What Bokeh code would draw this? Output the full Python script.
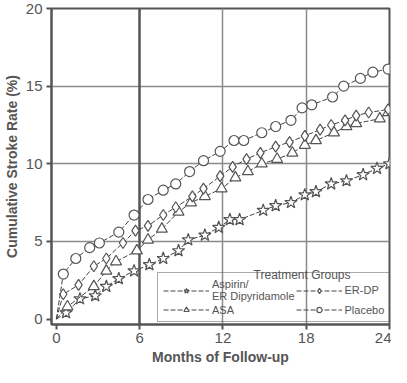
from bokeh.plotting import figure
from bokeh.models import Range1d, FixedTicker, Grid, Legend, LegendItem, Label
from bokeh.embed import file_html
from bokeh.resources import INLINE

# Data (months of follow-up vs cumulative stroke rate %)
combo_months = [0, 0.7, 1.7, 2.8, 3.6, 4.5, 5.6, 6.7, 7.7, 8.8, 9.5, 10.7, 11.7, 12.5, 13.2, 14.9, 15.8, 16.9, 17.9, 18.7, 19.8, 20.9, 22.1, 23.1, 24.0]
combo_rate = [0, 0.4, 1.3, 1.5, 2.1, 2.6, 3.1, 3.5, 3.9, 4.4, 5.1, 5.4, 5.9, 6.4, 6.4, 7.0, 7.3, 7.5, 8.0, 8.2, 8.7, 8.9, 9.3, 9.7, 10.0]

asa_months = [0, 0.8, 2.7, 3.6, 4.3, 5.8, 6.6, 7.6, 8.8, 9.7, 10.7, 11.9, 12.9, 13.8, 14.8, 15.9, 17.0, 17.9, 18.7, 20.0, 20.9, 21.6, 23.3, 23.9]
asa_rate = [0, 0.8, 2.1, 3.1, 3.7, 4.4, 5.1, 5.8, 6.9, 7.5, 7.9, 8.4, 9.1, 9.5, 10.0, 10.3, 10.7, 11.2, 11.5, 12.0, 12.4, 12.6, 12.9, 13.3]

erdp_months = [0, 0.5, 1.6, 2.7, 3.6, 4.8, 5.7, 6.6, 7.7, 8.6, 9.8, 10.6, 11.8, 12.7, 13.7, 14.7, 15.8, 16.8, 17.9, 19.0, 19.8, 20.8, 21.6, 22.5, 23.9]
erdp_rate = [0, 1.6, 2.2, 3.4, 3.9, 4.9, 5.7, 6.0, 6.7, 7.2, 7.9, 8.4, 9.2, 9.8, 10.3, 10.7, 11.1, 11.4, 11.8, 12.2, 12.5, 12.8, 13.1, 13.3, 13.5]

placebo_months = [0, 0.5, 1.4, 2.4, 3.1, 4.5, 5.6, 6.6, 7.7, 8.6, 9.6, 10.6, 11.8, 12.8, 13.5, 14.8, 15.8, 16.9, 17.7, 18.4, 19.9, 20.7, 21.9, 22.8, 23.9]
placebo_rate = [0, 2.9, 3.9, 4.6, 4.9, 5.6, 6.7, 7.7, 8.3, 8.7, 9.5, 10.2, 10.8, 11.5, 11.5, 12.0, 12.4, 12.8, 13.6, 13.8, 14.3, 15.0, 15.5, 15.9, 16.1]

x_ticks = [0, 6, 12, 18, 24]
y_ticks = [0, 5, 10, 15, 20]
legend_title = "Treatment Groups"

FONT = "'Liberation Sans', Arial, sans-serif"
DARK = "#555555"
GRID = "#8a8a8a"

p = figure(width=391, height=367,
           output_backend="svg", toolbar_location=None,
           x_range=Range1d(-0.35, 24), y_range=Range1d(-0.35, 20),
           min_border_left=0, min_border_right=2, min_border_top=8, min_border_bottom=0)
p.background_fill_color = "white"
p.border_fill_color = "white"
p.outline_line_color = DARK
p.outline_line_width = 2

p.xgrid.visible = False
p.ygrid.visible = False
p.add_layout(Grid(dimension=1, ticker=FixedTicker(ticks=[5, 10, 15]), grid_line_color=GRID, grid_line_width=1.5))
p.add_layout(Grid(dimension=0, ticker=FixedTicker(ticks=[12, 18]), grid_line_color=GRID, grid_line_width=1.5))
p.add_layout(Grid(dimension=0, ticker=FixedTicker(ticks=[6]), grid_line_color=DARK, grid_line_width=2.5))

p.xaxis.ticker = FixedTicker(ticks=x_ticks)
p.yaxis.ticker = FixedTicker(ticks=y_ticks)
for ax in (p.xaxis[0], p.yaxis[0]):
    ax.axis_line_color = DARK
    ax.axis_line_width = 2
    ax.major_tick_line_color = DARK
    ax.major_tick_line_width = 2
    ax.major_tick_out = 5
    ax.major_tick_in = 0
    ax.minor_tick_line_color = None
    ax.major_label_text_font = FONT
    ax.major_label_text_font_size = "15px"
    ax.major_label_text_color = DARK
    ax.axis_label_text_font = FONT
    ax.axis_label_text_font_style = "bold"
    ax.axis_label_text_font_size = "14px"
    ax.axis_label_text_color = DARK
p.xaxis.axis_label = "Months of Follow-up"
p.yaxis.axis_label = "Cumulative Stroke Rate (%)"
p.xaxis.major_label_standoff = 3
p.yaxis.major_label_standoff = 4
p.xaxis.axis_label_standoff = 3
p.yaxis.axis_label_standoff = 3

LINE = "#444444"
series = [
    ("Aspirin/\nER Dipyridamole", combo_months, combo_rate, "star", 13),
    ("ASA", asa_months, asa_rate, "triangle", 11),
    ("ER-DP", erdp_months, erdp_rate, "diamond", 11),
    ("Placebo", placebo_months, placebo_rate, "circle", 10),
]
items = []
for label, xs, ys, marker, size in series:
    ln = p.line(xs, ys, line_color=LINE, line_width=1, line_dash="5 2")
    sc = p.scatter(xs[1:], ys[1:], marker=marker, size=size, fill_color="white",
                   line_color=DARK, line_width=1.2)
    items.append(LegendItem(label=label, renderers=[ln, sc]))

legend = Legend(items=items, ncols=2, location=(106, 2))
legend.label_text_font = FONT
legend.label_text_font_size = "11px"
legend.label_text_color = DARK
legend.label_standoff = 3
legend.glyph_width = 46
legend.glyph_height = 13
legend.label_height = 13
legend.spacing = 1
legend.padding = 5
legend.margin = 0
legend.border_line_color = DARK
legend.border_line_width = 1.5
legend.background_fill_alpha = 0
p.add_layout(legend)

p.add_layout(Label(x=17.7, y=2.85, text=legend_title, text_align="center",
                   text_baseline="middle", text_font=FONT, text_font_size="12px",
                   text_color=DARK))

open("out.html", "w").write(file_html(p, INLINE))
